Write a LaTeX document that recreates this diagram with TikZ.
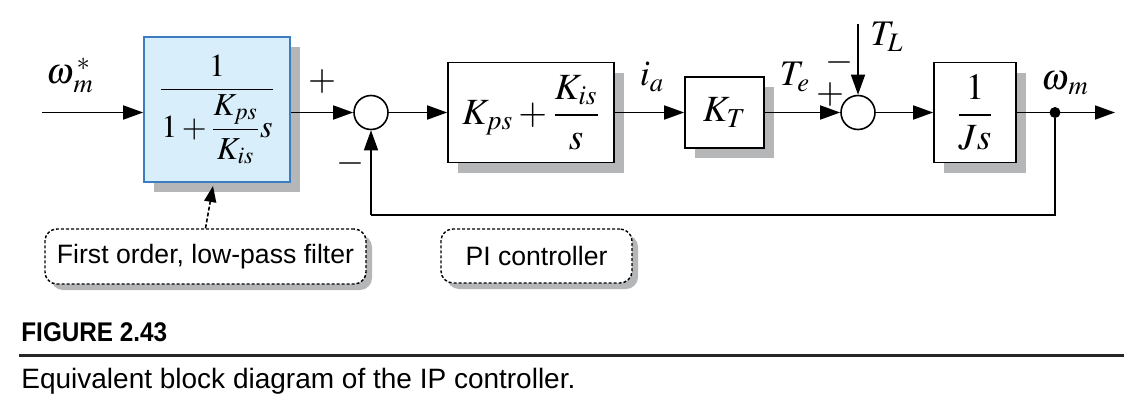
\documentclass[tikz,border=0pt]{standalone}
\usepackage{amsmath}
\usepackage{mathptmx}
\usepackage[no-math]{fontspec}
\setmainfont{Liberation Sans}
\newfontfamily\capfont[FakeStretch=0.9]{Liberation Sans}
\usetikzlibrary{positioning}
\usetikzlibrary{calc}
\usetikzlibrary{arrows.meta}
\usetikzlibrary{shadows}
\definecolor{shadowgray}{RGB}{180,182,184}
\definecolor{filtfill}{RGB}{216,238,250}
\definecolor{filtdraw}{RGB}{59,125,192}
\tikzset{
  blockbox/.style={draw, line width=0.8pt, fill=white, inner sep=0pt,
    drop shadow={shadow xshift=5pt, shadow yshift=-5pt, fill=shadowgray, opacity=1}},
  sumnode/.style={circle, draw, line width=0.8pt, fill=white, minimum size=17pt, inner sep=0pt},
  sig/.style={-{Triangle[length=10pt,width=7pt]}, line width=0.8pt},
  note/.style={draw, rounded corners=6pt, dash pattern=on 1.5pt off 1pt, line width=0.7pt, fill=white,
    font=\fontsize{13.3}{15}\selectfont,
    drop shadow={shadow xshift=3pt, shadow yshift=-3pt, fill=shadowgray, opacity=1}},
  bigmath/.style={font=\fontsize{18.5}{21}\selectfont},
  lbl/.style={font=\fontsize{18}{20}\selectfont}
}
\begin{document}
\begin{tikzpicture}[x=0.5pt,y=-0.5pt]
    \useasboundingbox (0,0) rectangle (1124,418);
    \node[blockbox, fill=filtfill, draw=filtdraw, minimum width=73pt, minimum height=72.5pt, font=\fontsize{16}{18}\selectfont] (filt) at (217,109.5) {$\dfrac{1}{1+\dfrac{K_{ps}}{K_{is}}s}$};
    \node[blockbox, bigmath, minimum width=83pt, minimum height=50pt] (pi_ctrl) at (531,112.5) {$K_{ps}+\dfrac{K_{is}}{s}$};
    \node[blockbox, bigmath, minimum width=39.5pt, minimum height=35.5pt] (k_t) at (724.5,112.5) {$K_T$};
    \node[blockbox, bigmath, minimum width=41pt, minimum height=50pt] (j_s) at (975,112.5) {$\dfrac{1}{Js}$};
    \node[sumnode] (sum_1) at (371,112.5) {};
    \node[sumnode] (sum_2) at (858,112.5) {};
    \node[circle, fill, minimum size=5.5pt, inner sep=0pt] (tap) at (1055,112.5) {};
    \coordinate (w_in) at (42,112.5);
    \coordinate (w_out) at (1115,112.5);
    \coordinate (t_l) at (858,24);
    \coordinate (fb_r) at (1055,215);
    \coordinate (fb_l) at (371,215);
    \coordinate (filt_tip) at (213,186);

    \node[lbl] (w_ref) at (70,75) {$\omega^{\,*}_{\,m}$};
    \node[lbl] (p_1) at (322,82) {$+$};
    \node[lbl] (m_1) at (350,163) {$-$};
    \node[lbl] (i_a) at (652,77) {$i_a$};
    \node[lbl] (t_e) at (795,77) {$T_e$};
    \node[lbl] (p_2) at (830,95) {$+$};
    \node[lbl] (m_2) at (839,62) {$-$};
    \node[lbl] (t_l_lbl) at (887,37) {$T_L$};
    \node[lbl] (w_m) at (1065,83) {$\omega_{\,m}$};

    \draw[sig] (w_in) -- (w_in -| filt.west);
    \draw[sig] (filt.east |- sum_1) -- (sum_1);
    \draw[sig] (sum_1) -- (pi_ctrl);
    \draw[sig] (pi_ctrl) -- (k_t);
    \draw[sig] (k_t) -- (sum_2);
    \draw[sig] (t_l) -- (sum_2);
    \draw[sig] (sum_2) -- (j_s);
    \draw[sig] (j_s) -- (w_out);
    \draw[line width=0.8pt] (tap) -- (fb_r) -- (fb_l);
    \draw[sig] (fb_l) -- (sum_1);

    \node[note, minimum width=160.5pt, minimum height=27.5pt] (filt_note) at (205.5,256.5) {First order, low-pass filter};
    \node[note, minimum width=95.5pt, minimum height=27pt] (pi_note) at (536.5,256) {PI controller};
    \draw[-{Triangle[length=8pt,width=6pt]}, dash pattern=on 2pt off 1pt, line width=0.8pt] (filt_note.north) -- (filt_tip);

    \node[anchor=west, inner sep=0pt, font=\capfont\bfseries\fontsize{13.5}{16}\selectfont] (fig_no) at (21,332) {FIGURE 2.43};
    \coordinate (rule_l) at (19,355);
    \coordinate (rule_r) at (1124,355);
    \draw[line width=1.5pt, black!85] (rule_l) -- (rule_r);
    \node[anchor=west, inner sep=0pt, font=\fontsize{14}{16}\selectfont] (fig_cap) at (21,381) {Equivalent block diagram of the IP controller.};
\end{tikzpicture}
\end{document}
